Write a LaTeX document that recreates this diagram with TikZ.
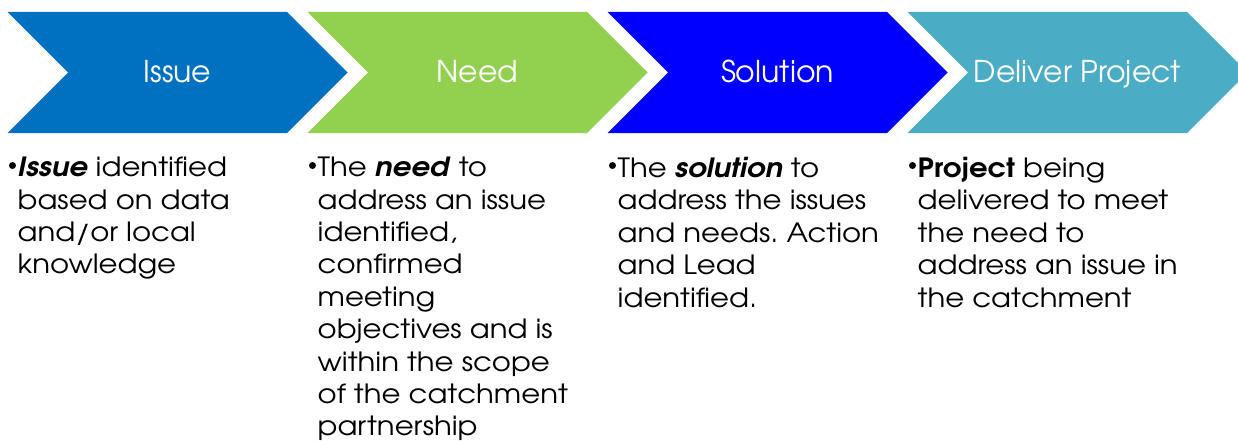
\documentclass[tikz,border=0pt]{standalone}
\usepackage{fontspec}
\setmainfont{texgyreadventor}[Extension=.otf, UprightFont=*-regular, BoldFont=*-bold, ItalicFont=*-italic, BoldItalicFont=*-bolditalic]
\newfontfamily\bodyfont{texgyreadventor}[Extension=.otf, UprightFont=*-regular, BoldFont=*-bold, ItalicFont=*-italic, BoldItalicFont=*-bolditalic, FakeStretch=1.1]
\usetikzlibrary{shapes.symbols}
\definecolor{issueblue}{HTML}{0070C0}
\definecolor{needgreen}{HTML}{92D050}
\definecolor{solblue}{HTML}{0000FF}
\definecolor{delteal}{HTML}{4BACC6}
% hanging indent for the description lists
\newcommand{\ind}{\hspace*{10.5pt}}
\frenchspacing
\begin{document}
\begin{tikzpicture}[x=1pt,y=-1pt,
  chevron/.style={shape=signal, signal to=east, signal from=west, signal pointer angle=90,
    minimum width=340pt, minimum height=121pt, inner sep=0pt, outer sep=0pt,
    text height=24pt, text depth=3pt,
    text=white, font=\fontsize{30}{36}\selectfont},
  body/.style={anchor=north west, inner sep=0pt, align=left,
    font=\bodyfont\fontsize{26.5}{32.4}\selectfont},
  dot/.style={circle, fill=black, inner sep=0pt, minimum size=7pt}]
  \useasboundingbox (0,0) rectangle (1238,441);
  \clip (0,0) rectangle (1238,441);
  % process chevrons
  \node[chevron, fill=issueblue] (issue) at (177.5,72.5) {Issue};
  \node[chevron, fill=needgreen] (need) at (477.5,72.5) {Need};
  \node[chevron, fill=solblue] (solution) at (777.5,72.5) {Solution};
  \node[chevron, fill=delteal] (deliver) at (1077.5,72.5) {Deliver Project};
  % bullets
  \node[dot] (b1) at (12.5,165.5) {};
  \node[dot] (b2) at (312.5,165.5) {};
  \node[dot] (b3) at (612.5,165.5) {};
  \node[dot] (b4) at (912.5,165.5) {};
  % descriptions under each step
  \node[body] (issuetxt) at (7,157) {\ind\textbf{\textit{Issue}} identified\\ \ind based on data\\ \ind and/or local\\ \ind knowledge};
  \node[body] (needtxt) at (307,157) {\ind The \textbf{\textit{need}} to\\ \ind address an issue\\ \ind identified,\\ \ind confirmed\\ \ind meeting\\ \ind objectives and is\\ \ind within the scope\\ \ind of the catchment\\ \ind partnership};
  \node[body] (soltxt) at (607,157) {\ind The \textbf{\textit{solution}} to\\ \ind address the issues\\ \ind and needs. Action\\ \ind and Lead\\ \ind identified.};
  \node[body] (deltxt) at (907,157) {\ind\textbf{Project} being\\ \ind delivered to meet\\ \ind the need to\\ \ind address an issue in\\ \ind the catchment};
\end{tikzpicture}
\end{document}
